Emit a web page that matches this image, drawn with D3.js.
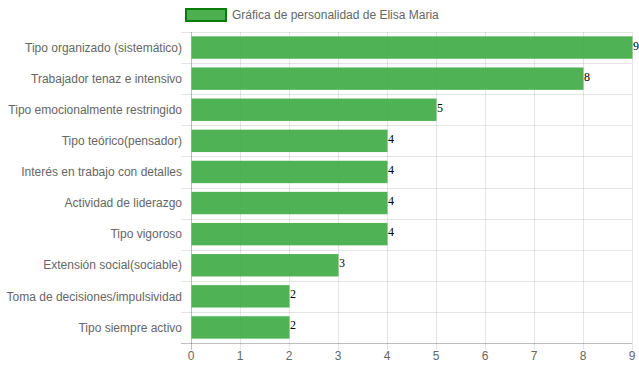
<!DOCTYPE html>
<html>
<head>
<meta charset="utf-8">
<script src="https://cdn.jsdelivr.net/npm/d3@7"></script>
<style>
  body { margin: 0; background: #fff; }
  svg { display: block; }
</style>
</head>
<body>
<svg id="chart"></svg>
<script>
var categories = [
    "Tipo organizado (sistemático)",
    "Trabajador tenaz e intensivo",
    "Tipo emocionalmente restringido",
    "Tipo teórico(pensador)",
    "Interés en trabajo con detalles",
    "Actividad de liderazgo",
    "Tipo vigoroso",
    "Extensión social(sociable)",
    "Toma de decisiones/impulsividad",
    "Tipo siempre activo"
];
var values = [9, 8, 5, 4, 4, 4, 4, 3, 2, 2];
var xTicks = [0, 1, 2, 3, 4, 5, 6, 7, 8, 9];
var seriesName = "Gráfica de personalidad de Elisa Maria";

function main()
{
    var width = 639, height = 372;
    var margin = { top: 32, left: 191, right: 7, bottom: 29 };

    var svg = d3.select("#chart")
        .attr("width", width)
        .attr("height", height)
        .style("font-family", "'Liberation Sans', Arial, sans-serif");

    var x = d3.scaleLinear()
        .domain([0, 9])
        .range([margin.left, width - margin.right]);

    var y = d3.scaleBand()
        .domain(categories)
        .range([margin.top, height - margin.bottom]);

    var gridColor = "rgba(0,0,0,0.1)";

    // vertical grid lines (with tick stubs below axis)
    svg.append("g")
        .selectAll("line")
        .data(xTicks)
        .enter().append("line")
        .attr("x1", function(d) { return Math.round(x(d)) + 0.5; })
        .attr("x2", function(d) { return Math.round(x(d)) + 0.5; })
        .attr("y1", margin.top)
        .attr("y2", height - margin.bottom + 7)
        .attr("stroke", function(d) { return d == 0 ? "rgba(0,0,0,0.25)" : gridColor; });

    // horizontal grid lines at category boundaries
    var bounds = categories.map(function(c) { return y(c); });
    bounds.push(height - margin.bottom);
    svg.append("g")
        .selectAll("line")
        .data(bounds)
        .enter().append("line")
        .attr("x1", margin.left - 10)
        .attr("x2", width - margin.right)
        .attr("y1", function(d) { return Math.round(d) + 0.5; })
        .attr("y2", function(d) { return Math.round(d) + 0.5; })
        .attr("stroke", function(d, i) { return i == bounds.length - 1 ? "rgba(0,0,0,0.25)" : gridColor; });

    // bars
    var barH = y.bandwidth() * 0.72;
    svg.append("g")
        .selectAll("rect")
        .data(values)
        .enter().append("rect")
        .attr("x", x(0) + 0.5)
        .attr("y", function(d, i) { return y(categories[i]) + (y.bandwidth() - barH) / 2; })
        .attr("width", function(d) { return x(d) - x(0); })
        .attr("height", barH)
        .attr("fill", "rgb(60,170,65)")
        .attr("fill-opacity", 0.9);

    // value labels
    svg.append("g")
        .selectAll("text")
        .data(values)
        .enter().append("text")
        .attr("x", function(d) { return x(d) + 1; })
        .attr("y", function(d, i) { return y(categories[i]) + y.bandwidth() / 2 + 2; })
        .attr("font-family", "'Liberation Serif', 'Times New Roman', serif")
        .attr("font-size", 12)
        .attr("fill", "#000")
        .text(function(d) { return d; });

    // category labels
    svg.append("g")
        .selectAll("text")
        .data(categories)
        .enter().append("text")
        .attr("x", margin.left - 9)
        .attr("y", function(d) { return y(d) + y.bandwidth() / 2; })
        .attr("dy", "0.35em")
        .attr("text-anchor", "end")
        .attr("font-size", 12)
        .attr("fill", "#666")
        .text(function(d) { return d; });

    // x tick labels
    svg.append("g")
        .selectAll("text")
        .data(xTicks)
        .enter().append("text")
        .attr("x", function(d) { return x(d); })
        .attr("y", height - margin.bottom + 13)
        .attr("dy", "0.35em")
        .attr("text-anchor", "middle")
        .attr("font-size", 12)
        .attr("fill", "#666")
        .text(function(d) { return d; });

    // legend
    svg.append("rect")
        .attr("x", 186)
        .attr("y", 9)
        .attr("width", 40)
        .attr("height", 12)
        .attr("fill", "rgb(76,175,80)")
        .attr("stroke", "#0a7a0a")
        .attr("stroke-width", 2);

    svg.append("text")
        .attr("x", 232)
        .attr("y", 15)
        .attr("dy", "0.35em")
        .attr("font-size", 12)
        .attr("fill", "#666")
        .text(seriesName);
}

main();
</script>
</body>
</html>
